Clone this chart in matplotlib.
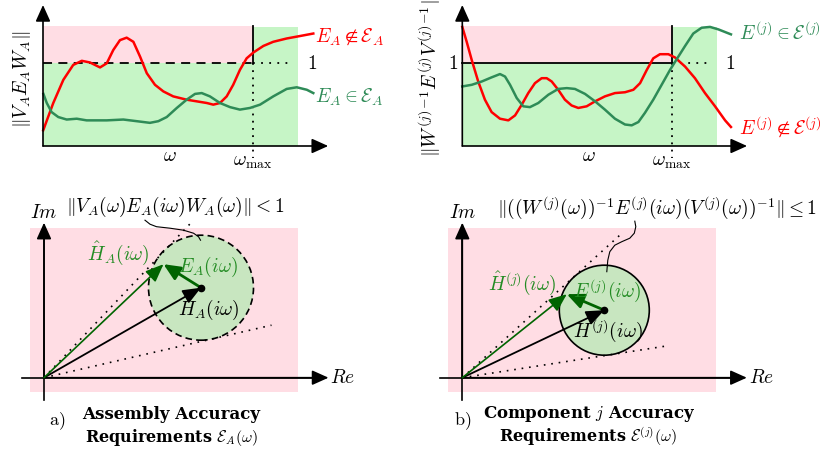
import matplotlib
matplotlib.use("Agg")
import matplotlib.pyplot as plt
from matplotlib.patches import Circle, Rectangle

plt.rcParams['mathtext.fontset'] = 'cm'
plt.rcParams['font.family'] = 'DejaVu Serif'

PINK = '#ffdde4'
LGREEN = '#c6f5c6'
CGREEN = '#c8e6c0'
RED = '#ff0000'
SEA = '#2e8b57'
DGREEN = '#006400'
LBL_GREEN = '#228b22'
FS = 14

# ---- top panels: omega (omega_max = 10) vs. norm (limit = 1) ----
w_max = 10.0
w_green_end = 12.15
norm_top = 1.45

# assembly, red curve (not in set)
a_red_w = [0.01, 0.49, 0.97, 1.44, 1.85, 2.24, 2.72, 3.04, 3.35, 3.67, 3.99, 4.31, 4.63,
           4.95, 5.34, 5.74, 6.21, 6.85, 7.33, 7.81, 8.12, 8.44, 8.76, 9.07, 9.39, 9.71,
           10.03, 10.51, 10.98, 11.62, 12.26, 12.89]
a_red_n = [0.19, 0.52, 0.80, 0.98, 1.03, 1.01, 0.95, 1.00, 1.16, 1.28, 1.31, 1.26, 1.08,
           0.88, 0.74, 0.66, 0.60, 0.56, 0.54, 0.52, 0.50, 0.52, 0.60, 0.74, 0.92, 1.06,
           1.13, 1.21, 1.26, 1.30, 1.33, 1.36]
# assembly, green curve (in set)
a_grn_w = [0.02, 0.18, 0.41, 0.73, 1.13, 1.61, 2.08, 2.56, 3.04, 3.83, 4.47, 5.10, 5.50,
           5.90, 6.38, 6.85, 7.25, 7.57, 7.96, 8.44, 8.92, 9.39, 9.87, 10.35, 10.98, 11.62,
           12.10, 12.58, 12.89]
a_grn_n = [0.63, 0.52, 0.41, 0.35, 0.32, 0.33, 0.31, 0.31, 0.31, 0.32, 0.30, 0.28, 0.30,
           0.35, 0.46, 0.56, 0.63, 0.64, 0.60, 0.52, 0.47, 0.44, 0.46, 0.50, 0.60, 0.69,
           0.71, 0.68, 0.64]
# component, red curve (not in set)
c_red_w = [0.0, 0.21, 0.45, 0.76, 1.08, 1.40, 1.80, 2.20, 2.52, 2.84, 3.15, 3.47, 3.79,
           4.03, 4.27, 4.58, 4.90, 5.22, 5.54, 5.94, 6.34, 6.81, 7.29, 7.77, 8.17, 8.49,
           8.81, 9.12, 9.44, 9.84, 10.16, 10.64, 11.11, 11.59, 12.07, 12.55, 12.83]
c_red_n = [1.44, 1.26, 1.04, 0.78, 0.56, 0.41, 0.33, 0.31, 0.37, 0.50, 0.64, 0.76, 0.82,
           0.82, 0.78, 0.68, 0.56, 0.49, 0.46, 0.48, 0.54, 0.60, 0.64, 0.65, 0.68, 0.76,
           0.92, 1.06, 1.11, 1.11, 1.07, 0.96, 0.82, 0.64, 0.48, 0.31, 0.23]
# component, green curve (in set)
c_grn_w = [0.0, 0.45, 0.93, 1.40, 1.80, 2.04, 2.28, 2.60, 2.91, 3.23, 3.63, 4.11, 4.58,
           4.99, 5.38, 5.86, 6.34, 6.81, 7.29, 7.77, 8.09, 8.41, 8.72, 9.12, 9.52, 9.92,
           10.24, 10.64, 11.03, 11.43, 11.83, 12.23, 12.83]
c_grn_n = [0.72, 0.74, 0.78, 0.83, 0.87, 0.84, 0.74, 0.58, 0.48, 0.47, 0.52, 0.62, 0.69,
           0.70, 0.69, 0.63, 0.54, 0.44, 0.33, 0.26, 0.25, 0.29, 0.40, 0.56, 0.74, 0.92,
           1.05, 1.21, 1.36, 1.43, 1.44, 1.41, 1.35]

# ---- bottom panels: complex plane ----
a_H = (3.14, 1.80)        # H_A(i w)
a_Hhat = (2.39, 2.27)     # H_A hat
a_r = 1.05
a_tan_up = (2.99, 3.15)
a_tan_lo = (4.55, 1.05)
a_link_re = [2.02, 2.12, 2.25, 2.52, 2.79, 2.99, 3.09, 3.13]
a_link_im = [3.15, 3.07, 3.02, 2.99, 2.95, 2.89, 2.82, 2.75]

c_H = (2.84, 1.35)
c_Hhat = (2.09, 1.67)
c_r = 0.90
c_tan_up = (3.15, 2.85)
c_tan_lo = (4.12, 0.64)
c_link_re = [3.45, 3.47, 3.44, 3.35, 3.19, 3.05, 2.95, 2.91, 2.89]
c_link_im = [3.13, 3.02, 2.89, 2.79, 2.72, 2.65, 2.52, 2.35, 2.12]


def arrow(ax, start, end, color='black', lw=1.2, hl=9, hw=3.6):
    ax.annotate('', xy=end, xytext=start,
                arrowprops=dict(arrowstyle=f'-|>,head_length={hl},head_width={hw}',
                                mutation_scale=1, color=color, lw=lw,
                                shrinkA=0, shrinkB=0))


fig = plt.figure(figsize=(8.23, 4.55), dpi=100)
W, H = 823, 455

# top panels
ax1 = fig.add_axes([0, 280 / H, 411 / W, 175 / H])
ax2 = fig.add_axes([412 / W, 280 / H, 411 / W, 175 / H])
ax1.set_xlim(-43 / 20.97, 368 / 20.97)
ax2.set_xlim(-50.3 / 20.94, 360.7 / 20.94)
for ax in (ax1, ax2):
    ax.set_ylim(-29 / 82.7, 146 / 82.7)
    ax.axis('off')
    ax.fill_between([0, w_max], 1, norm_top, color=PINK, lw=0)
    ax.fill_between([0, w_max], 0, 1, color=LGREEN, lw=0)
    ax.fill_between([w_max, w_green_end], 0, norm_top - 0.01, color=LGREEN, lw=0)
    ax.plot([w_max, w_max], [1, norm_top], color='black', lw=1.3)
    ax.plot([w_max, w_max], [1, -0.14], color='black', lw=1.3, ls=(0, (1, 3)))
    ax.plot([w_max, 11.9], [1, 1], color='black', lw=1.3, ls=(0, (1, 3.5)))
    arrow(ax, (0, 0), (0, 1.705), hl=10, hw=4.5)
    arrow(ax, (0, 0), (13.6, 0), hl=10, hw=4.5)
    ax.text(6.03, -0.12, r'$\omega$', fontsize=FS, ha='center', va='center')
    ax.text(w_max, -0.19, r'$\omega_{\max}$', fontsize=FS, ha='center', va='center')

ax1.plot([0, w_max], [1, 1], color='black', lw=1.3, ls=(0, (5, 3.5)))
ax2.plot([0, w_max], [1, 1], color='black', lw=1.3)

ax1.plot(a_red_w, a_red_n, color=RED, lw=1.8)
ax1.plot(a_grn_w, a_grn_n, color=SEA, lw=1.8)
ax1.text(12.85, 0.99, r'$1$', fontsize=FS, ha='center', va='center')
ax1.text(12.97, 1.32, r'$E_A \notin \mathcal{E}_A$', color=RED, fontsize=FS, va='center')
ax1.text(12.97, 0.59, r'$E_A \in \mathcal{E}_A$', color=SEA, fontsize=FS, va='center')
ax1.text(-1.0, 0.80, r'$\|V_A E_A W_A\|$', fontsize=FS, rotation=90,
         ha='center', va='center')

ax2.plot(c_red_w, c_red_n, color=RED, lw=1.8)
ax2.plot(c_grn_w, c_grn_n, color=SEA, lw=1.8)
ax2.text(-0.44, 0.99, r'$1$', fontsize=FS, ha='center', va='center')
ax2.text(12.81, 0.99, r'$1$', fontsize=FS, ha='center', va='center')
ax2.text(13.23, 1.37, r'$E^{(j)} \in \mathcal{E}^{(j)}$', color=SEA, fontsize=FS, va='center')
ax2.text(13.23, 0.23, r'$E^{(j)} \notin \mathcal{E}^{(j)}$', color=RED, fontsize=FS, va='center')
ax2.text(-1.55, -0.13, r'$\|{W^{(j)}}^{-1}E^{(j)}{V^{(j)}}^{-1}\|$', fontsize=FS,
         rotation=90, ha='center', va='bottom')

# bottom panels
ax3 = fig.add_axes([0, 0, 411 / W, 265 / H])
ax4 = fig.add_axes([412 / W, 0, 411 / W, 265 / H])
ax3.set_xlim(-44 / 50, 367 / 50)
ax4.set_xlim(-50.3 / 50, 360.7 / 50)
for ax, rx0, rx1 in ((ax3, -0.28, 5.09), (ax4, -0.29, 5.07)):
    ax.set_ylim(-77.3 / 50, 187.7 / 50)
    ax.axis('off')
    ax.add_patch(Rectangle((rx0, -0.28), rx1 - rx0, 3.28, color=PINK, lw=0, zorder=0))
    ax.plot([-0.44, 5.5], [0, 0], color='black', lw=1.2)
    ax.plot([0, 0], [-0.45, 3.0], color='black', lw=1.2)
    arrow(ax, (0, 0), (5.69, 0), hl=10, hw=4.5)
    arrow(ax, (0, 0), (0, 3.10), hl=10, hw=4.5)
    ax.text(0.0, 3.30, r'$Im$', fontsize=FS, ha='center', va='center')
    ax.text(5.73, 0.0, r'$Re$', fontsize=FS, ha='left', va='center')

for ax, Hc, Hh, r, up, lo, lre, lim, ls in (
        (ax3, a_H, a_Hhat, a_r, a_tan_up, a_tan_lo, a_link_re, a_link_im, (0, (4, 2.5))),
        (ax4, c_H, c_Hhat, c_r, c_tan_up, c_tan_lo, c_link_re, c_link_im, '-')):
    ax.add_patch(Circle(Hc, r, facecolor=CGREEN, edgecolor='black', lw=1.2,
                        ls=ls, zorder=1))
    ax.plot([0, up[0]], [0, up[1]], color='black', lw=1.2, ls=(0, (1, 3.5)), zorder=2)
    ax.plot([0, lo[0]], [0, lo[1]], color='black', lw=1.2, ls=(0, (1, 3.5)), zorder=2)
    ax.plot(lre, lim, color='black', lw=0.8, zorder=2)
    arrow(ax, (0, 0), Hc, color='black', lw=1.3, hl=11, hw=4.5)
    arrow(ax, (0, 0), Hh, color=DGREEN, lw=1.2, hl=11, hw=4.5)
    arrow(ax, Hc, Hh, color=DGREEN, lw=2.0, hl=10, hw=4.5)
    ax.plot(*Hc, 'o', color='black', ms=4.5, zorder=5)

bold1 = dict(fontsize=12, fontweight='bold', ha='center', va='center')
bold2 = dict(fontsize=11.5, fontweight='bold', ha='center', va='center')

ax3.text(0.44, 3.41, r'$\|V_A(\omega)E_A(i\omega)W_A(\omega)\| < 1$', fontsize=FS,
         ha='left', va='center')
ax3.text(1.48, 2.49, r'$\hat{H}_A(i\omega)$', color=LBL_GREEN, fontsize=FS,
         ha='center', va='center')
ax3.text(2.68, 2.21, r'$E_A(i\omega)$', color=LBL_GREEN, fontsize=FS, va='center')
ax3.text(2.68, 1.35, r'$H_A(i\omega)$', color='black', fontsize=FS, va='center')
ax3.text(0.26, -0.87, r'$\mathrm{a)}$', fontsize=13, ha='center', va='center')
ax3.text(2.54, -0.73, 'Assembly Accuracy', **bold1)
ax3.text(2.54, -1.19, r'Requirements $\mathcal{E}_A(\omega)$', **bold2)

ax4.text(0.69, 3.41, r'$\|((W^{(j)}(\omega))^{-1}E^{(j)}(i\omega)(V^{(j)}(\omega))^{-1}\| \leq 1$',
         fontsize=FS, ha='left', va='center')
ax4.text(1.19, 1.89, r'$\hat{H}^{(j)}(i\omega)$', color=LBL_GREEN, fontsize=FS,
         ha='center', va='center')
ax4.text(2.21, 1.75, r'$E^{(j)}(i\omega)$', color=LBL_GREEN, fontsize=FS, va='center')
ax4.text(2.21, 0.95, r'$H^{(j)}(i\omega)$', color='black', fontsize=FS, va='center')
ax4.text(0.0, -0.87, r'$\mathrm{b)}$', fontsize=13, ha='center', va='center')
ax4.text(2.53, -0.73, r'Component $j$ Accuracy', **bold1)
ax4.text(2.51, -1.19, r'Requirements $\mathcal{E}^{(j)}(\omega)$', **bold2)

fig.savefig('out.png', dpi=100)
